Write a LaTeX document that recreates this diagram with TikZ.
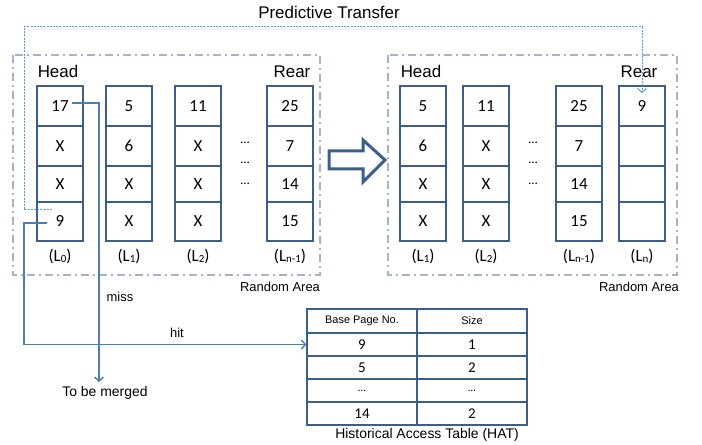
\documentclass[tikz,border=0pt]{standalone}
\usepackage{fontspec}
\setmainfont{Liberation Sans}
\newfontfamily\calfont{Carlito}
\usetikzlibrary{arrows.meta}
\definecolor{cellblue}{HTML}{3B5E8C}
\definecolor{boxgray}{HTML}{A5B4CA}
\definecolor{linkblue}{HTML}{4A7EBB}
\definecolor{dotblue}{HTML}{5B9BD5}
\newcommand\lsub[1]{\raisebox{-1bp}{\fontsize{11}{11}\selectfont #1}}
\tikzset{
  cell/.style={draw=cellblue, line width=2bp, minimum width=46bp, inner sep=0pt,
    font=\calfont\fontsize{17}{17}\selectfont},
  lbl/.style={inner sep=0pt, font=\calfont\fontsize{17}{17}\selectfont},
  dotsl/.style={inner sep=0pt, font=\calfont\fontsize{13}{13}\selectfont},
  big/.style={inner sep=0pt, font=\fontsize{17}{17}\selectfont},
  small/.style={inner sep=0pt, font=\fontsize{13}{13}\selectfont},
  area/.style={draw=boxgray, line width=2bp, dash pattern=on 8bp off 4bp on 2bp off 4bp},
  link/.style={draw=linkblue, line width=1.4bp, -{Straight Barb[length=4bp,width=9bp]}},
  ptline/.style={draw=dotblue, line width=1bp, dash pattern=on 2bp off 1.2bp, -{Straight Barb[length=4bp,width=9bp]}},
  tcell/.style={draw=cellblue, line width=1.3bp, minimum width=110bp, minimum height=23bp, inner sep=0pt},
  thead/.style={tcell, minimum height=24bp, font=\fontsize{11}{11}\selectfont},
  tnum/.style={tcell, font=\calfont\fontsize{15}{15}\selectfont},
}
\newcommand\cellcol[6]{%
  \node[cell, minimum height=40bp] (#1a) at (#2,106) {#3};
  \node[cell, minimum height=40bp] (#1b) at (#2,146) {#4};
  \node[cell, minimum height=36bp] (#1c) at (#2,184) {#5};
  \node[cell, minimum height=39bp] (#1d) at (#2,221.5) {#6};
}
\begin{document}
\begin{tikzpicture}[x=1bp, y=-1bp]
\useasboundingbox (0,0) rectangle (702,445);
% areas
\draw[area] (13,55) rectangle (320,275);
\draw[area] (388,55) rectangle (677,275);
% title
\node[big] (title) at (329,12.5) {Predictive Transfer};
% left side
\node[big] (headL) at (58,71.5) {Head};
\node[big] (rearL) at (292,71.5) {Rear};
\cellcol{A}{60}{17}{X}{X}{9}
\cellcol{B}{129}{5}{6}{X}{X}
\cellcol{C}{198}{11}{X}{X}{X}
\cellcol{D}{290}{25}{7}{14}{15}
\node[lbl] (lA) at (60,256) {(L\lsub{0})};
\node[lbl] (lB) at (129,256) {(L\lsub{1})};
\node[lbl] (lC) at (198,256) {(L\lsub{2})};
\node[lbl] (lD) at (290,256) {(L\lsub{n-1})};
\node[dotsl] (d1) at (245,143) {…};
\node[dotsl] (d2) at (245,163) {…};
\node[dotsl] (d3) at (245,184) {…};
\node[small] (raL) at (280,287) {Random Area};
% right side
\node[big] (headR) at (421,71.5) {Head};
\node[big] (rearR) at (639,71.5) {Rear};
\cellcol{E}{423}{5}{6}{X}{X}
\cellcol{F}{486}{11}{X}{X}{X}
\cellcol{G}{579}{25}{7}{14}{15}
\cellcol{H}{642}{9}{}{}{}
\node[lbl] (lE) at (423,256) {(L\lsub{1})};
\node[lbl] (lF) at (486,256) {(L\lsub{2})};
\node[lbl] (lG) at (579,256) {(L\lsub{n-1})};
\node[lbl] (lH) at (642,256) {(L\lsub{n})};
\node[dotsl] (d4) at (533,143) {…};
\node[dotsl] (d5) at (533,163) {…};
\node[dotsl] (d6) at (533,184) {…};
\node[small] (raR) at (639,287) {Random Area};
% big arrow
\draw[cellblue, line width=3bp, fill=white, line join=miter]
  (329,151) -- (363,151) -- (363,140) -- (385,160) -- (363,182) -- (363,169) -- (329,169) -- cycle;
% table
\node[thead] (T0a) at (362,321) {Base Page No.};
\node[thead] (T0b) at (472,321) {Size};
\node[tnum] (T1a) at (362,344.5) {9};
\node[tnum] (T1b) at (472,344.5) {1};
\node[tnum] (T2a) at (362,367.5) {5};
\node[tnum] (T2b) at (472,367.5) {2};
\node[tnum, font=\calfont\fontsize{11}{11}\selectfont] (T3a) at (362,390.5) {…};
\node[tnum, font=\calfont\fontsize{11}{11}\selectfont] (T3b) at (472,390.5) {…};
\node[tnum] (T4a) at (362,413.5) {14};
\node[tnum] (T4b) at (472,413.5) {2};
\node[small, anchor=base, font=\fontsize{14}{14}\selectfont] (hat) at (427,438) {Historical Access Table (HAT)};
% connectors
\coordinate (ptsrc) at (52,210);
\coordinate (ptleft) at (24,210);
\coordinate (pttop) at (642,27);
\coordinate (ptend) at (642,93);
\draw[ptline] (ptsrc) -- (ptleft) |- (pttop) -- (ptend);
\coordinate (misssrc) at (72,103);
\coordinate (missend) at (99,382);
\draw[link] (misssrc) -| (missend);
\coordinate (hitsrc) at (47,223);
\coordinate (hitleft) at (24,223);
\draw[link] (hitsrc) -- (hitleft) |- (T1a.west);
\node[small, anchor=base] (miss) at (120,302) {miss};
\node[small, anchor=base] (hit) at (177,338) {hit};
\node[small, anchor=base, font=\fontsize{14}{14}\selectfont] (merged) at (105,396) {To be merged};
\end{tikzpicture}
\end{document}
